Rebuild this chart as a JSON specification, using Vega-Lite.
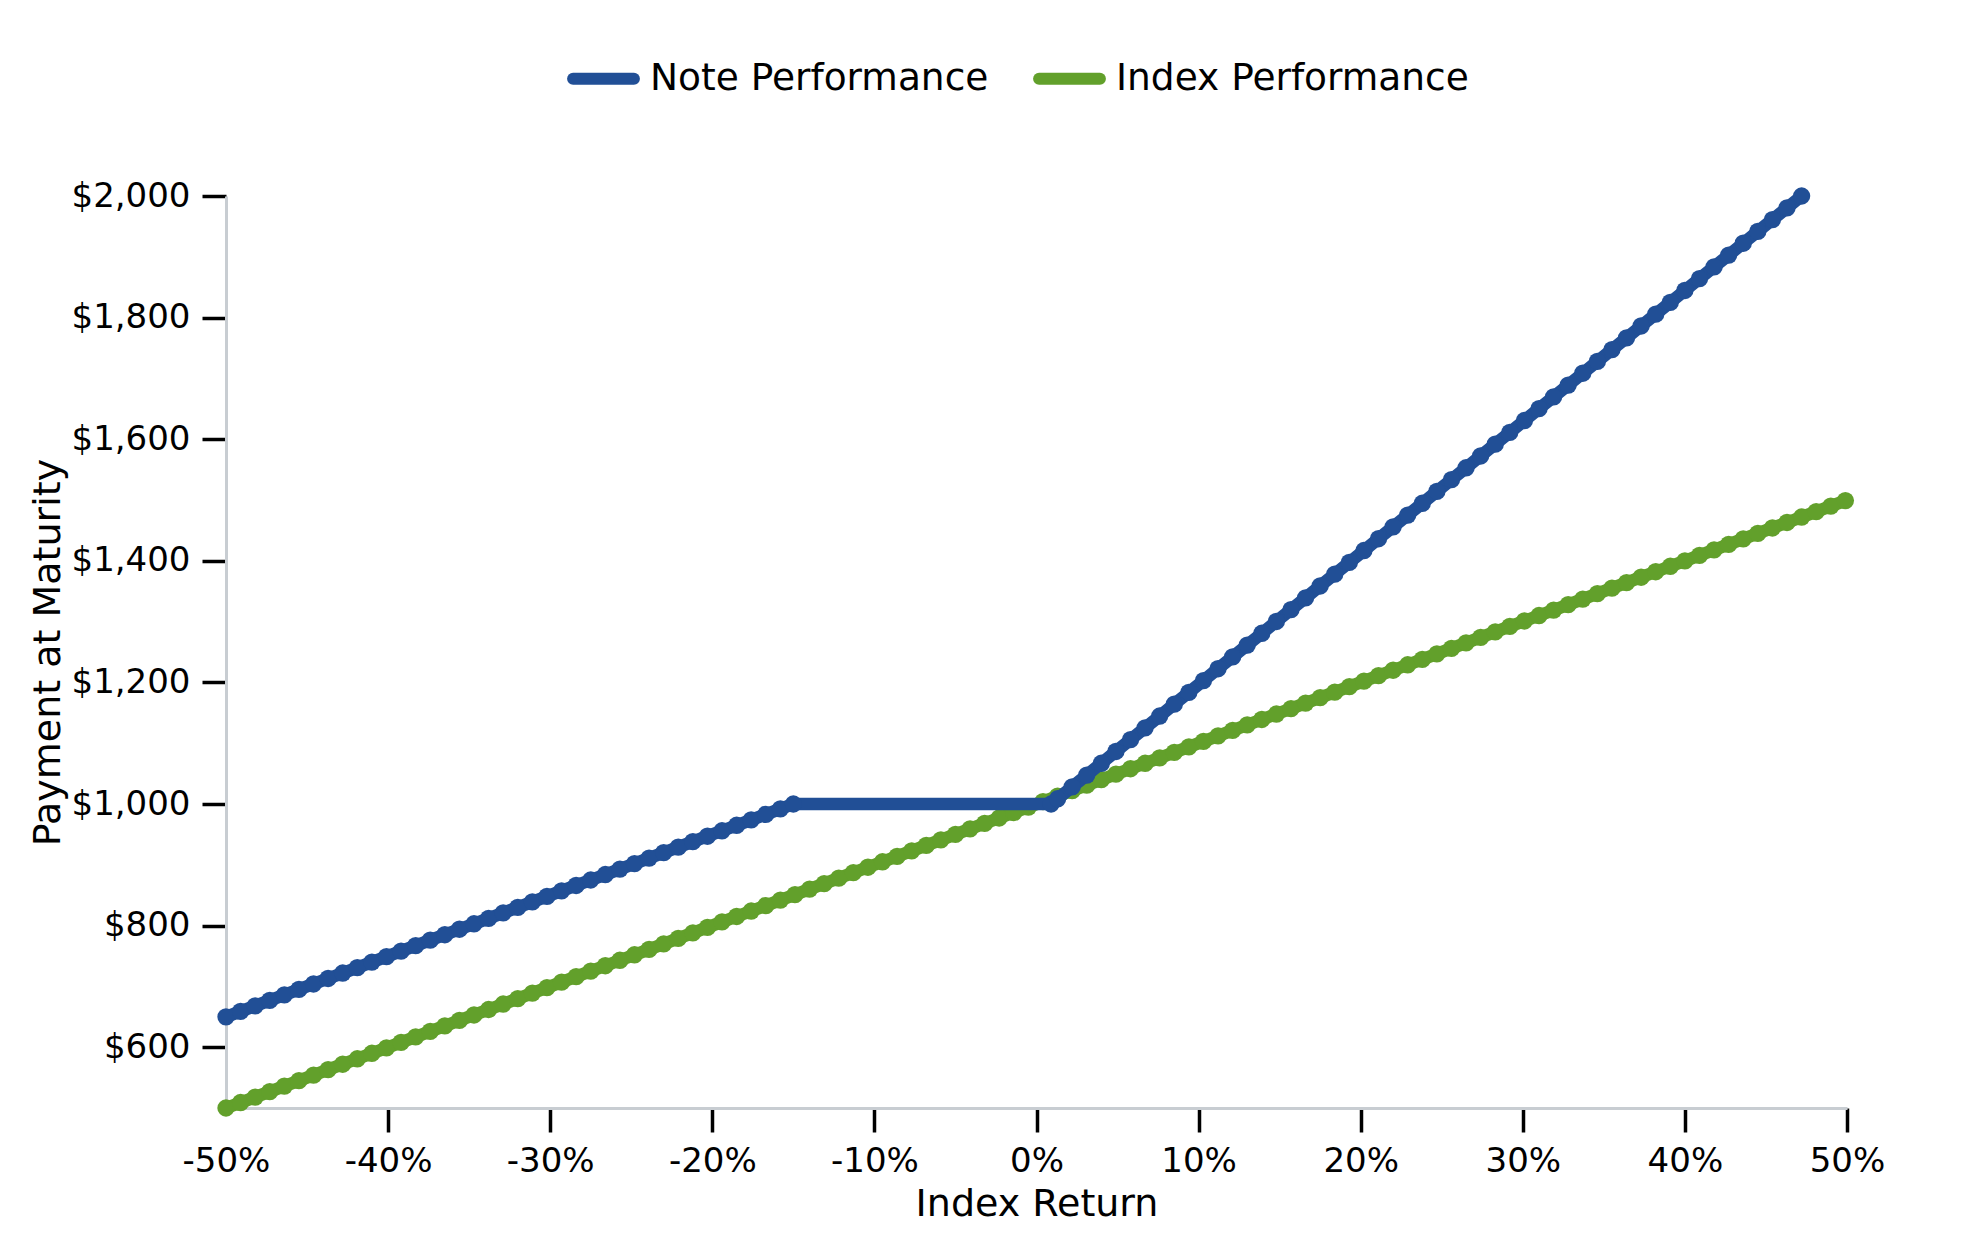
{
  "$schema": "https://vega.github.io/schema/vega-lite/v6.json",
  "description": "Payment at maturity of a buffered, leveraged note vs the index",
  "width": 1621,
  "height": 912,
  "autosize": {"type": "none"},
  "padding": {"left": 226, "top": 196, "right": 132, "bottom": 142},
  "config": {
    "font": "DejaVu Sans",
    "view": {"stroke": null},
    "axis": {
      "grid": false,
      "domainColor": "#c8cdd2",
      "domainWidth": 3,
      "tickColor": "#000000",
      "tickWidth": 3.5,
      "tickSize": 24,
      "labelColor": "#000000",
      "labelFontSize": 34,
      "labelFlush": false,
      "titleColor": "#000000",
      "titleFontSize": 38,
      "titleFontWeight": "normal"
    }
  },
  "data": {
    "values": [
      {"r": -50, "p": 650, "s": "N"}, {"r": -49.1, "p": 659, "s": "N"}, {"r": -48.2, "p": 668, "s": "N"},
      {"r": -47.3, "p": 677, "s": "N"}, {"r": -46.4, "p": 686, "s": "N"}, {"r": -45.5, "p": 695, "s": "N"},
      {"r": -44.6, "p": 704, "s": "N"}, {"r": -43.7, "p": 713, "s": "N"}, {"r": -42.8, "p": 722, "s": "N"},
      {"r": -41.9, "p": 731, "s": "N"}, {"r": -41, "p": 740, "s": "N"}, {"r": -40.1, "p": 749, "s": "N"},
      {"r": -39.2, "p": 758, "s": "N"}, {"r": -38.3, "p": 767, "s": "N"}, {"r": -37.4, "p": 776, "s": "N"},
      {"r": -36.5, "p": 785, "s": "N"}, {"r": -35.6, "p": 794, "s": "N"}, {"r": -34.7, "p": 803, "s": "N"},
      {"r": -33.8, "p": 812, "s": "N"}, {"r": -32.9, "p": 821, "s": "N"}, {"r": -32, "p": 830, "s": "N"},
      {"r": -31.1, "p": 839, "s": "N"}, {"r": -30.2, "p": 848, "s": "N"}, {"r": -29.3, "p": 857, "s": "N"},
      {"r": -28.4, "p": 866, "s": "N"}, {"r": -27.5, "p": 875, "s": "N"}, {"r": -26.6, "p": 884, "s": "N"},
      {"r": -25.7, "p": 893, "s": "N"}, {"r": -24.8, "p": 902, "s": "N"}, {"r": -23.9, "p": 911, "s": "N"},
      {"r": -23, "p": 920, "s": "N"}, {"r": -22.1, "p": 929, "s": "N"}, {"r": -21.2, "p": 938, "s": "N"},
      {"r": -20.3, "p": 947, "s": "N"}, {"r": -19.4, "p": 956, "s": "N"}, {"r": -18.5, "p": 965, "s": "N"},
      {"r": -17.6, "p": 974, "s": "N"}, {"r": -16.7, "p": 983, "s": "N"}, {"r": -15.8, "p": 992, "s": "N"},
      {"r": -15, "p": 1000, "s": "N"}, {"r": 0.9, "p": 1000, "s": "N"},
      {"r": 1.3, "p": 1008.6, "s": "N"}, {"r": 2.2, "p": 1028.1, "s": "N"}, {"r": 3.1, "p": 1047.5, "s": "N"},
      {"r": 4, "p": 1067, "s": "N"}, {"r": 4.9, "p": 1086.4, "s": "N"}, {"r": 5.8, "p": 1105.8, "s": "N"},
      {"r": 6.7, "p": 1125.3, "s": "N"}, {"r": 7.6, "p": 1144.7, "s": "N"}, {"r": 8.5, "p": 1164.2, "s": "N"},
      {"r": 9.4, "p": 1183.6, "s": "N"}, {"r": 10.3, "p": 1203, "s": "N"}, {"r": 11.2, "p": 1222.5, "s": "N"},
      {"r": 12.1, "p": 1241.9, "s": "N"}, {"r": 13, "p": 1261.4, "s": "N"}, {"r": 13.9, "p": 1280.8, "s": "N"},
      {"r": 14.8, "p": 1300.2, "s": "N"}, {"r": 15.7, "p": 1319.7, "s": "N"}, {"r": 16.6, "p": 1339.1, "s": "N"},
      {"r": 17.5, "p": 1358.6, "s": "N"}, {"r": 18.4, "p": 1378, "s": "N"}, {"r": 19.3, "p": 1397.4, "s": "N"},
      {"r": 20.2, "p": 1416.9, "s": "N"}, {"r": 21.1, "p": 1436.3, "s": "N"}, {"r": 22, "p": 1455.8, "s": "N"},
      {"r": 22.9, "p": 1475.2, "s": "N"}, {"r": 23.8, "p": 1494.6, "s": "N"}, {"r": 24.7, "p": 1514.1, "s": "N"},
      {"r": 25.6, "p": 1533.5, "s": "N"}, {"r": 26.5, "p": 1553, "s": "N"}, {"r": 27.4, "p": 1572.4, "s": "N"},
      {"r": 28.3, "p": 1591.8, "s": "N"}, {"r": 29.2, "p": 1611.3, "s": "N"}, {"r": 30.1, "p": 1630.7, "s": "N"},
      {"r": 31, "p": 1650.2, "s": "N"}, {"r": 31.9, "p": 1669.6, "s": "N"}, {"r": 32.8, "p": 1689, "s": "N"},
      {"r": 33.7, "p": 1708.5, "s": "N"}, {"r": 34.6, "p": 1727.9, "s": "N"}, {"r": 35.5, "p": 1747.4, "s": "N"},
      {"r": 36.4, "p": 1766.8, "s": "N"}, {"r": 37.3, "p": 1786.2, "s": "N"}, {"r": 38.2, "p": 1805.7, "s": "N"},
      {"r": 39.1, "p": 1825.1, "s": "N"}, {"r": 40, "p": 1844.6, "s": "N"}, {"r": 40.9, "p": 1864, "s": "N"},
      {"r": 41.8, "p": 1883.4, "s": "N"}, {"r": 42.7, "p": 1902.9, "s": "N"}, {"r": 43.6, "p": 1922.3, "s": "N"},
      {"r": 44.5, "p": 1941.8, "s": "N"}, {"r": 45.4, "p": 1961.2, "s": "N"}, {"r": 46.3, "p": 1980.6, "s": "N"},
      {"r": 47.2, "p": 2000, "s": "N"},

      {"r": -50, "p": 500, "s": "I"}, {"r": -49.1, "p": 509, "s": "I"}, {"r": -48.2, "p": 518, "s": "I"},
      {"r": -47.3, "p": 527, "s": "I"}, {"r": -46.4, "p": 536, "s": "I"}, {"r": -45.5, "p": 545, "s": "I"},
      {"r": -44.6, "p": 554, "s": "I"}, {"r": -43.7, "p": 563, "s": "I"}, {"r": -42.8, "p": 572, "s": "I"},
      {"r": -41.9, "p": 581, "s": "I"}, {"r": -41, "p": 590, "s": "I"}, {"r": -40.1, "p": 599, "s": "I"},
      {"r": -39.2, "p": 608, "s": "I"}, {"r": -38.3, "p": 617, "s": "I"}, {"r": -37.4, "p": 626, "s": "I"},
      {"r": -36.5, "p": 635, "s": "I"}, {"r": -35.6, "p": 644, "s": "I"}, {"r": -34.7, "p": 653, "s": "I"},
      {"r": -33.8, "p": 662, "s": "I"}, {"r": -32.9, "p": 671, "s": "I"}, {"r": -32, "p": 680, "s": "I"},
      {"r": -31.1, "p": 689, "s": "I"}, {"r": -30.2, "p": 698, "s": "I"}, {"r": -29.3, "p": 707, "s": "I"},
      {"r": -28.4, "p": 716, "s": "I"}, {"r": -27.5, "p": 725, "s": "I"}, {"r": -26.6, "p": 734, "s": "I"},
      {"r": -25.7, "p": 743, "s": "I"}, {"r": -24.8, "p": 752, "s": "I"}, {"r": -23.9, "p": 761, "s": "I"},
      {"r": -23, "p": 770, "s": "I"}, {"r": -22.1, "p": 779, "s": "I"}, {"r": -21.2, "p": 788, "s": "I"},
      {"r": -20.3, "p": 797, "s": "I"}, {"r": -19.4, "p": 806, "s": "I"}, {"r": -18.5, "p": 815, "s": "I"},
      {"r": -17.6, "p": 824, "s": "I"}, {"r": -16.7, "p": 833, "s": "I"}, {"r": -15.8, "p": 842, "s": "I"},
      {"r": -14.9, "p": 851, "s": "I"}, {"r": -14, "p": 860, "s": "I"}, {"r": -13.1, "p": 869, "s": "I"},
      {"r": -12.2, "p": 878, "s": "I"}, {"r": -11.3, "p": 887, "s": "I"}, {"r": -10.4, "p": 896, "s": "I"},
      {"r": -9.5, "p": 905, "s": "I"}, {"r": -8.6, "p": 914, "s": "I"}, {"r": -7.7, "p": 923, "s": "I"},
      {"r": -6.8, "p": 932, "s": "I"}, {"r": -5.9, "p": 941, "s": "I"}, {"r": -5, "p": 950, "s": "I"},
      {"r": -4.1, "p": 959, "s": "I"}, {"r": -3.2, "p": 968, "s": "I"}, {"r": -2.3, "p": 977, "s": "I"},
      {"r": -1.4, "p": 986, "s": "I"}, {"r": -0.5, "p": 995, "s": "I"}, {"r": 0.4, "p": 1004, "s": "I"},
      {"r": 1.3, "p": 1013, "s": "I"}, {"r": 2.2, "p": 1022, "s": "I"}, {"r": 3.1, "p": 1031, "s": "I"},
      {"r": 4, "p": 1040, "s": "I"}, {"r": 4.9, "p": 1049, "s": "I"}, {"r": 5.8, "p": 1058, "s": "I"},
      {"r": 6.7, "p": 1067, "s": "I"}, {"r": 7.6, "p": 1076, "s": "I"}, {"r": 8.5, "p": 1085, "s": "I"},
      {"r": 9.4, "p": 1094, "s": "I"}, {"r": 10.3, "p": 1103, "s": "I"}, {"r": 11.2, "p": 1112, "s": "I"},
      {"r": 12.1, "p": 1121, "s": "I"}, {"r": 13, "p": 1130, "s": "I"}, {"r": 13.9, "p": 1139, "s": "I"},
      {"r": 14.8, "p": 1148, "s": "I"}, {"r": 15.7, "p": 1157, "s": "I"}, {"r": 16.6, "p": 1166, "s": "I"},
      {"r": 17.5, "p": 1175, "s": "I"}, {"r": 18.4, "p": 1184, "s": "I"}, {"r": 19.3, "p": 1193, "s": "I"},
      {"r": 20.2, "p": 1202, "s": "I"}, {"r": 21.1, "p": 1211, "s": "I"}, {"r": 22, "p": 1220, "s": "I"},
      {"r": 22.9, "p": 1229, "s": "I"}, {"r": 23.8, "p": 1238, "s": "I"}, {"r": 24.7, "p": 1247, "s": "I"},
      {"r": 25.6, "p": 1256, "s": "I"}, {"r": 26.5, "p": 1265, "s": "I"}, {"r": 27.4, "p": 1274, "s": "I"},
      {"r": 28.3, "p": 1283, "s": "I"}, {"r": 29.2, "p": 1292, "s": "I"}, {"r": 30.1, "p": 1301, "s": "I"},
      {"r": 31, "p": 1310, "s": "I"}, {"r": 31.9, "p": 1319, "s": "I"}, {"r": 32.8, "p": 1328, "s": "I"},
      {"r": 33.7, "p": 1337, "s": "I"}, {"r": 34.6, "p": 1346, "s": "I"}, {"r": 35.5, "p": 1355, "s": "I"},
      {"r": 36.4, "p": 1364, "s": "I"}, {"r": 37.3, "p": 1373, "s": "I"}, {"r": 38.2, "p": 1382, "s": "I"},
      {"r": 39.1, "p": 1391, "s": "I"}, {"r": 40, "p": 1400, "s": "I"}, {"r": 40.9, "p": 1409, "s": "I"},
      {"r": 41.8, "p": 1418, "s": "I"}, {"r": 42.7, "p": 1427, "s": "I"}, {"r": 43.6, "p": 1436, "s": "I"},
      {"r": 44.5, "p": 1445, "s": "I"}, {"r": 45.4, "p": 1454, "s": "I"}, {"r": 46.3, "p": 1463, "s": "I"},
      {"r": 47.2, "p": 1472, "s": "I"}, {"r": 48.1, "p": 1481, "s": "I"}, {"r": 49, "p": 1490, "s": "I"},
      {"r": 49.9, "p": 1499, "s": "I"}
    ]
  },
  "encoding": {
    "x": {
      "field": "r",
      "type": "quantitative",
      "title": "Index Return",
      "scale": {"domain": [-50, 50], "nice": false, "zero": false},
      "axis": {
        "values": [-50, -40, -30, -20, -10, 0, 10, 20, 30, 40, 50],
        "labelExpr": "datum.value + '%'",
        "tickOpacity": {"condition": {"test": "datum.value == -50", "value": 0}, "value": 1},
        "labelPadding": 12,
        "titlePadding": 7
      }
    },
    "y": {
      "field": "p",
      "type": "quantitative",
      "title": "Payment at Maturity",
      "scale": {"domain": [500, 2000], "nice": false, "zero": false},
      "axis": {
        "values": [600, 800, 1000, 1200, 1400, 1600, 1800, 2000],
        "format": "$,.0f",
        "labelPadding": 12,
        "titlePadding": 4
      }
    },
    "color": {
      "field": "s",
      "type": "nominal",
      "scale": {"domain": ["N", "I"], "range": ["#214f96", "#62a02b"]},
      "legend": {
        "title": null,
        "orient": "none",
        "direction": "horizontal",
        "legendX": 341,
        "legendY": -154,
        "symbolType": "stroke",
        "symbolSize": 3700,
        "symbolStrokeWidth": 12,
        "labelFontSize": 37.5,
        "labelColor": "#000000",
        "labelOffset": 10,
        "labelLimit": 600,
        "columnPadding": 26,
        "labelExpr": "datum.label == 'N' ? 'Note Performance' : 'Index Performance'",
        "encode": {"symbols": {"update": {"strokeCap": {"value": "round"}}}}
      }
    }
  },
  "layer": [
    {
      "transform": [{"filter": "datum.s == 'I'"}],
      "mark": {
        "type": "line",
        "strokeWidth": 12.5,
        "strokeJoin": "round",
        "strokeCap": "round",
        "clip": false,
        "point": {"filled": true, "size": 300}
      }
    },
    {
      "transform": [{"filter": "datum.s == 'N'"}],
      "mark": {
        "type": "line",
        "strokeWidth": 12.5,
        "strokeJoin": "round",
        "strokeCap": "round",
        "clip": false,
        "point": {"filled": true, "size": 300}
      }
    }
  ]
}
